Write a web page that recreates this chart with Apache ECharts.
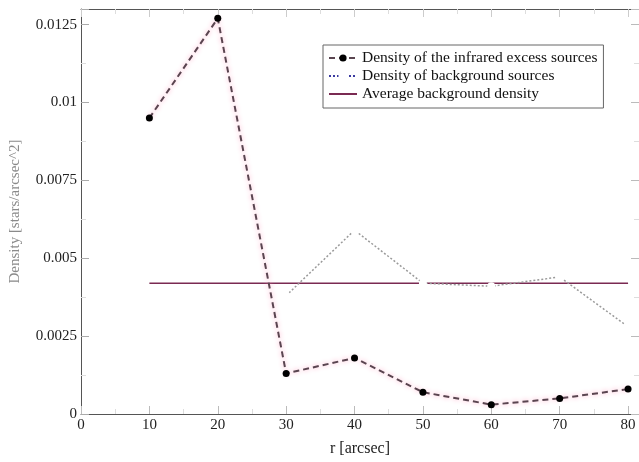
<!DOCTYPE html>
<html><head><meta charset="utf-8">
<script src="https://cdn.jsdelivr.net/npm/echarts@6/dist/echarts.min.js"></script>
<style>html,body{margin:0;padding:0;background:#fff}#c{width:639px;height:462px}</style>
</head><body><div id="c"></div>
<script>
const rInfrared = [10, 20, 30, 40, 50, 60, 70, 80];
const densInfrared = [0.0095, 0.0127, 0.0013, 0.0018, 0.0007, 0.0003, 0.0005, 0.0008];
const rBackground = [30, 40, 50, 60, 70, 80];
const densBackground = [0.0038, 0.0059, 0.0042, 0.0041, 0.0044, 0.0028];
const rAverage = [10, 80];
const densAverage = [0.0042, 0.0042];
const yTickLabels = ['0', '0.0025', '0.005', '0.0075', '0.01', '0.0125'];
const seriesNames = ['Density of the infrared excess sources', 'Density of background sources', 'Average background density'];

const pair = (xs, ys) => xs.map((x, i) => [x, ys[i]]);
const font = "'Liberation Serif', 'DejaVu Serif', serif";
const chart = echarts.init(document.getElementById('c'), null, {renderer: 'canvas'});
chart.setOption({
  animation: false,
  backgroundColor: '#fff',
  grid: {left: 79, right: 0, top: 9, bottom: 40},
  legend: {
    orient: 'vertical', left: 323, top: 45,
    backgroundColor: '#fff', borderColor: '#666', borderWidth: 1,
    padding: [5, 6, 6, 5], itemGap: 2, itemWidth: 28, itemHeight: 9,
    textStyle: {fontFamily: font, fontSize: 15.5, color: '#111'},
    data: [
      {name: seriesNames[0]},
      {name: seriesNames[1], itemStyle: {color: '#fff', borderColor: '#3a3aa0', borderWidth: 1.5}, lineStyle: {color: '#3a3aa0', type: 'dotted'}},
      {name: seriesNames[2], itemStyle: {opacity: 0}}
    ]
  },
  xAxis: [{
    type: 'value', min: 0, max: 81.6, interval: 10,
    name: 'r [arcsec]', nameLocation: 'middle', nameGap: 27,
    nameTextStyle: {fontFamily: font, fontSize: 16, color: '#222'},
    axisLine: {onZero: false, lineStyle: {color: '#555', width: 1}},
    axisTick: {inside: true, length: 8, lineStyle: {color: '#bbb'}},
    minorTick: {show: true, splitNumber: 2, length: 5, lineStyle: {color: '#ddd'}},
    splitLine: {show: false},
    axisLabel: {fontFamily: font, fontSize: 15, color: '#222', margin: 4, showMaxLabel: false}
  }, {
    type: 'value', position: 'top', min: 0, max: 81.6, interval: 10,
    axisLine: {show: true, onZero: false, lineStyle: {color: '#555', width: 1}},
    axisTick: {inside: true, length: 8, lineStyle: {color: '#ccc'}},
    minorTick: {show: true, splitNumber: 2, length: 5, lineStyle: {color: '#ddd'}},
    splitLine: {show: false},
    axisLabel: {show: false}
  }],
  yAxis: [{
    type: 'value', position: 'left', min: 0, max: 0.013, interval: 0.0025,
    name: 'Density [stars/arcsec^2]', nameLocation: 'middle', nameGap: 58,
    nameTextStyle: {fontFamily: font, fontSize: 15, color: '#8a8a8a'},
    axisLine: {show: true, onZero: false, lineStyle: {color: '#555', width: 1}},
    axisTick: {show: true, inside: true, length: 8, lineStyle: {color: '#aaa'}},
    minorTick: {show: true, splitNumber: 2, length: 5, lineStyle: {color: '#ddd'}},
    splitLine: {show: false},
    axisLabel: {fontFamily: font, fontSize: 15, color: '#222', margin: 4, showMaxLabel: false,
      formatter: v => { const i = Math.round(v / 0.0025); return yTickLabels[i] !== undefined ? yTickLabels[i] : ''; }}
  }, {
    type: 'value', position: 'right', min: 0, max: 0.013, interval: 0.0025,
    axisLine: {show: false, onZero: false},
    axisTick: {show: true, inside: true, length: 8, lineStyle: {color: '#bbb'}},
    minorTick: {show: true, splitNumber: 2, length: 5, lineStyle: {color: '#ddd'}},
    splitLine: {show: false},
    axisLabel: {show: false}
  }],
  series: [{
    name: seriesNames[2], type: 'line', data: pair(rAverage, densAverage),
    symbol: 'none', z: 1,
    lineStyle: {color: '#7a2a52', width: 1.5},
    itemStyle: {color: '#7a2a52'}
  }, {
    name: seriesNames[1], type: 'line', data: pair(rBackground, densBackground),
    symbol: 'emptyCircle', symbolSize: 6, z: 2,
    lineStyle: {color: '#9a9a9a', width: 1.5, type: [2, 2]},
    itemStyle: {color: '#fff', borderColor: '#8a8a8a', borderWidth: 1.5}
  }, {
    name: seriesNames[0], type: 'line', data: pair(rInfrared, densInfrared),
    symbol: 'circle', symbolSize: 7, z: 3,
    lineStyle: {color: '#5a4550', width: 2, type: [6, 4], shadowColor: '#ff9fbf', shadowBlur: 5},
    itemStyle: {color: '#000'}
  }]
});
</script></body></html>
